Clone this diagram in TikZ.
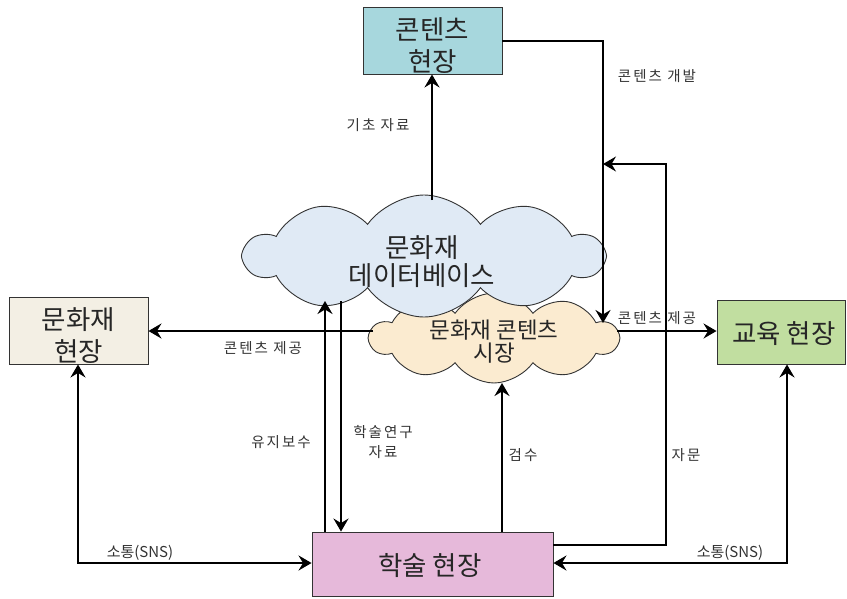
\documentclass[tikz,border=0pt]{standalone}
\usepackage{fontspec}
\setmainfont{Noto Sans CJK KR}
\newfontfamily\lblfont{Noto Sans CJK KR}[LetterSpace=14]
\newfontfamily\snsfont{Noto Sans CJK KR}
\usetikzlibrary{arrows.meta,shapes.symbols,calc}
\definecolor{ctfill}{HTML}{A7D7DD}
\definecolor{mhfill}{HTML}{F3EFE4}
\definecolor{edfill}{HTML}{C1DEA0}
\definecolor{acfill}{HTML}{E6B9DA}
\definecolor{dbfill}{HTML}{E0EAF5}
\definecolor{mkfill}{HTML}{FBEBD0}
\definecolor{lblcol}{HTML}{333333}
\tikzset{
  box/.style={draw=black!80, line width=0.9pt, inner sep=0pt},
  bigtxt/.style={font=\fontsize{26.5}{32}\selectfont, align=center, text=black!85, inner sep=0pt},
  dbtxt/.style={font=\fontsize{26.5}{28}\selectfont, align=center, text=black!85, inner sep=0pt},
  mktxt/.style={font=\fontsize{22.5}{23}\selectfont, align=center, text=black!85, inner sep=0pt},
  lbl/.style={font=\lblfont\fontsize{14.5}{20}\selectfont, text=lblcol, align=center, inner sep=0pt},
  snslbl/.style={font=\snsfont\fontsize{15}{20}\selectfont, text=lblcol, align=center, inner sep=0pt},
  arr/.style={line width=2.2pt, -{Stealth[length=13pt,width=15pt,inset=4.5pt]}},
  arrb/.style={line width=2.2pt, {Stealth[length=13pt,width=15pt,inset=4.5pt]}-{Stealth[length=13pt,width=15pt,inset=4.5pt]}},
  thinarr/.style={line width=1.2pt, -{Stealth[length=13pt,width=15pt,inset=4.5pt]}},
  cloudy/.style={cloud, cloud puffs=10, cloud puff arc=110, cloud ignores aspect, draw=black!80, line width=0.9pt, inner sep=0pt}
}
\begin{document}
\begin{tikzpicture}[x=1pt,y=-1pt]
\useasboundingbox (0,0) rectangle (847,598);
% boxes
\node[box, fill=ctfill, minimum width=139pt, minimum height=67pt] (ct) at (432.5,40.5) {};
\node[bigtxt] (cttxt) at (432.5,46) {콘텐츠\\현장};
\node[box, fill=mhfill, minimum width=139pt, minimum height=67pt] (mh) at (78.5,330.5) {};
\node[bigtxt] (mhtxt) at (78.5,336) {문화재\\현장};
\node[box, fill=edfill, minimum width=128pt, minimum height=64pt] (ed) at (781,332) {};
\node[bigtxt] (edtxt) at (784,334) {교육 현장};
\node[box, fill=acfill, minimum width=241pt, minimum height=64pt] (ac) at (432.5,564) {};
\node[bigtxt] (actxt) at (430,566) {학술 현장};
% clouds
\node[cloudy, fill=mkfill, minimum width=248pt, minimum height=90pt] (mk) at (494,338) {};
\node[mktxt] (mktext) at (494,342) {문화재 콘텐츠\\시장};
\node[cloudy, fill=dbfill, minimum width=358pt, minimum height=122pt] (db) at (424,256) {};
\node[dbtxt] (dbtext) at (422,262) {문화재\\데이터베이스};
% attach points
\coordinate (dbtop) at (432,200);
\coordinate (dbm) at (325,301);
\coordinate (dbr) at (341,301);
\coordinate (mkin) at (603,323);
\coordinate (mkj) at (603,164);
\coordinate (mkr) at (617,331);
\coordinate (mkl) at (373,331);
\coordinate (mkb) at (502,383);
\coordinate (acj) at (553,545);
\coordinate (jcorner) at (666,545);
% connectors
\draw[arr] (dbtop) -- (dbtop |- ct.south);
\draw[arr] (ct.east |- 0,41) -| (mkin);
\draw[thinarr] (acj) -- (jcorner) |- (mkj);
\draw[arr] (mkr) -- (ed.west |- mkr);
\draw[arr] (mkl) -- (mh.east |- mkl);
\draw[arr] (dbm |- ac.north) -- (dbm);
\draw[arr] (dbr) -- (dbr |- ac.north);
\draw[arr] (mkb |- ac.north) -- (mkb);
\draw[arrb] (mh.south -| 78,0) |- (ac.west |- 0,563);
\draw[arrb] (ed.south -| 787,0) |- (ac.east |- 0,563);
% labels
\node[lbl] (l1) at (378,125) {기초 자료};
\node[lbl] (l2) at (657,76) {콘텐츠 개발};
\node[lbl] (l3) at (657,318) {콘텐츠 제공};
\node[lbl] (l4) at (263,348) {콘텐츠 제공};
\node[lbl] (l5) at (281,442) {유지보수};
\node[lbl] (l6) at (383,442) {학술연구\\자료};
\node[lbl] (l7) at (523,455) {검수};
\node[lbl] (l8) at (686,455) {자문};
\node[snslbl] (l9) at (140,553) {소통(SNS)};
\node[snslbl] (l10) at (730,553) {소통(SNS)};
\end{tikzpicture}
\end{document}
